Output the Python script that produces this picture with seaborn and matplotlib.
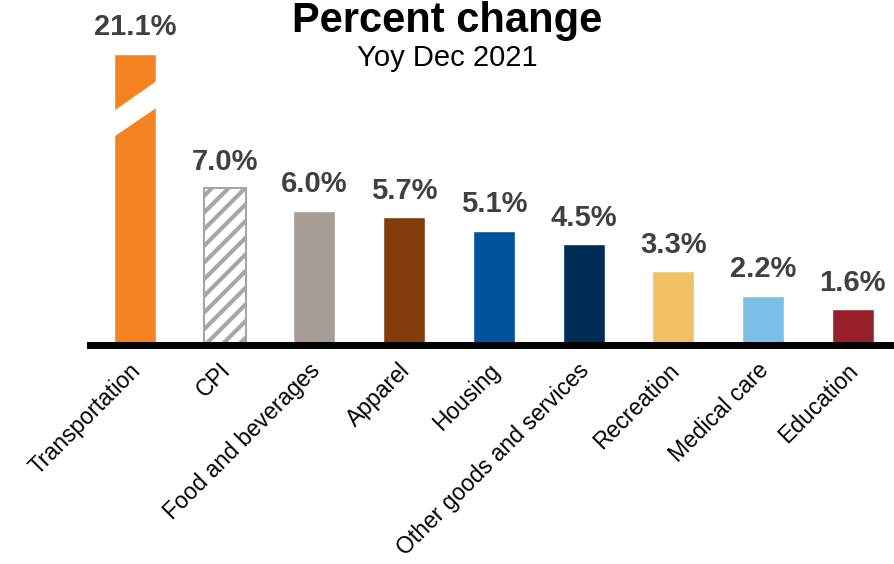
import pandas as pd
import numpy as np
import matplotlib.pyplot as plt
import matplotlib.transforms as mtransforms
import seaborn as sns
from matplotlib.patches import Polygon

sns.set_theme(style='white')
plt.rcParams['font.family'] = ['Liberation Sans', 'DejaVu Sans']
plt.rcParams['hatch.linewidth'] = 3.0

# ---- data ----
categories = ['Transportation', 'CPI', 'Food and beverages', 'Apparel', 'Housing',
              'Other goods and services', 'Recreation', 'Medical care', 'Education']
values = [21.1, 7.0, 6.0, 5.7, 5.1, 4.5, 3.3, 2.2, 1.6]
colors = ['#F58220', '#FFFFFF', '#A59D96', '#843C0C', '#00539B',
          '#002D55', '#F0C066', '#7BBEE6', '#98202A']

# broken-axis cap for the tall bar
display_cap = 13.0
shown = [min(v, display_cap) for v in values]

df = pd.DataFrame({'category': categories, 'shown': shown, 'value': values})

fig = plt.figure(figsize=(8.95, 5.64), dpi=100)
ax = fig.add_axes([0.1006, 0.3883, 0.8994, 0.5763])

sns.barplot(data=df, x='category', y='shown', hue='category', palette=colors,
            legend=False, width=0.47, saturation=1, ax=ax, zorder=2)

# CPI bar: hatched
cpi = ax.patches[1]
cpi.set_facecolor('white')
cpi.set_edgecolor('#A6A6A6')
cpi.set_hatch('//')
cpi.set_linewidth(1.5)

# break marker on the capped bar
tb = ax.patches[0]
x0, w = tb.get_x(), tb.get_width()
pad = 0.05
poly = Polygon([(x0 - pad, 9.15), (x0 + w + pad, 10.70),
                (x0 + w + pad, 11.90), (x0 - pad, 10.30)],
               closed=True, facecolor='white', edgecolor='none', zorder=3)
ax.add_patch(poly)

# value labels
for i, (s, v) in enumerate(zip(shown, values)):
    ax.annotate(f'{v:.1f}%', (i, s), xytext=(0, 9), textcoords='offset points',
                ha='center', va='bottom', fontsize=21, fontweight='bold', color='#404040')

ax.set_xlim(-0.5, 8.47)
ax.set_ylim(0, 14.5)
ax.set_xlabel('')
ax.set_ylabel('')
ax.set_yticks([])
for side in ['left', 'right', 'top']:
    ax.spines[side].set_visible(False)
ax.spines['bottom'].set_linewidth(5)
ax.spines['bottom'].set_color('black')
ax.spines['bottom'].set_zorder(4)
ax.tick_params(axis='x', length=0, pad=10)
shift = mtransforms.ScaledTranslation(-6 / 100, 0, fig.dpi_scale_trans)
for lbl in ax.get_xticklabels():
    lbl.set_rotation(45)
    lbl.set_ha('right')
    lbl.set_rotation_mode('anchor')
    lbl.set_fontsize(16.5)
    lbl.set_color('black')
    lbl.set_transform(lbl.get_transform() + shift)

fig.text(0.5, 0.962, 'Percent change', ha='center', va='center',
         fontsize=30, fontweight='bold', color='black')
fig.text(0.5, 0.897, 'Yoy Dec 2021', ha='center', va='center',
         fontsize=21, color='black')

fig.savefig('out.png', dpi=100)
